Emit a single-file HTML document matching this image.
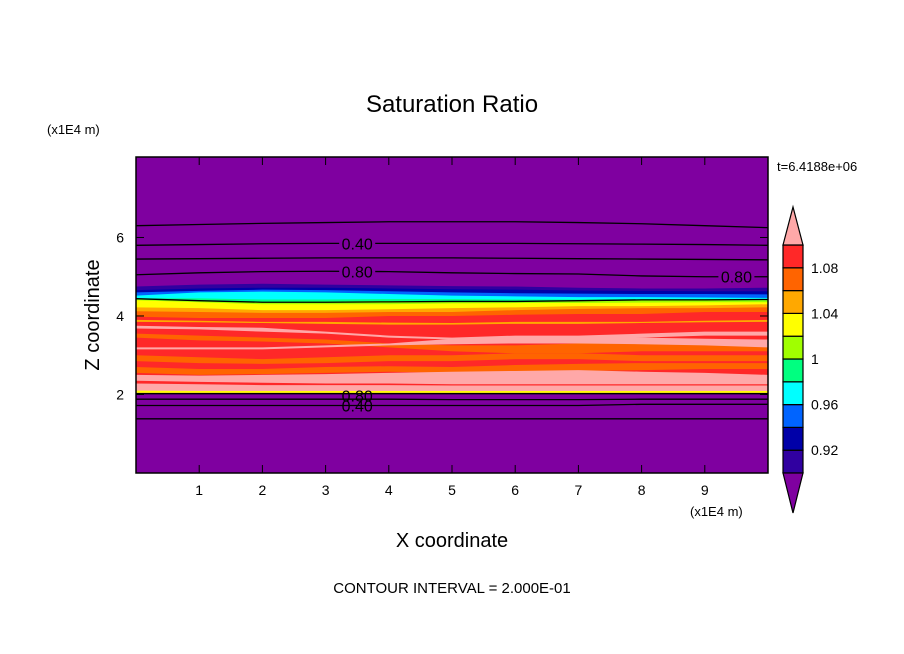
<!DOCTYPE html>
<html><head><meta charset="utf-8"><style>
html,body{margin:0;padding:0;background:#fff;width:904px;height:654px;overflow:hidden}
svg{display:block;font-family:"Liberation Sans","DejaVu Sans",sans-serif}
</style></head><body>
<svg id="chart" width="904" height="654" viewBox="0 0 904 654">
<text x="452" y="112" text-anchor="middle" font-size="24">Saturation Ratio</text>
<text x="47" y="134" font-size="13">(x1E4 m)</text>
<text x="777" y="171" font-size="13">t=6.4188e+06</text>
<text x="690" y="516" font-size="13">(x1E4 m)</text>
<text x="452" y="547" text-anchor="middle" font-size="20">X coordinate</text>
<text transform="translate(99,315) rotate(-90)" text-anchor="middle" font-size="20">Z coordinate</text>
<text x="452" y="593" text-anchor="middle" font-size="15">CONTOUR INTERVAL = 2.000E-01</text>
<g id="plot"></g>
<g id="cbar"></g>
</svg>
<script>
const xTicks=[1,2,3,4,5,6,7,8,9];
const yTicks=[2,4,6];
const xs=[0,1,2,3,4,5,6,7,8,9,10];
const bandColors=["#3000a0","#0000a8","#0064ff","#00ffff","#00ff80","#a0ff00","#ffff00","#ffa800","#ff6400","#ff2828"];
const bandTop0=[4.75,4.8,4.82,4.8,4.78,4.76,4.75,4.72,4.7,4.7,4.72];
const bandTop1=[4.66,4.7,4.72,4.72,4.7,4.68,4.67,4.65,4.64,4.63,4.63];
const bandTop2=[4.6,4.64,4.67,4.66,4.63,4.6,4.58,4.57,4.56,4.56,4.55];
const bandTop3=[4.52,4.6,4.62,4.6,4.56,4.52,4.5,4.48,4.48,4.47,4.46];
const bandTop4=[4.45,4.45,4.42,4.42,4.43,4.43,4.42,4.42,4.43,4.43,4.43];
const bandTop5=[4.42,4.38,4.36,4.37,4.38,4.38,4.37,4.38,4.4,4.4,4.4];
const bandTop6=[4.4,4.35,4.3,4.3,4.3,4.32,4.33,4.33,4.34,4.35,4.35];
const bandTop7=[4.22,4.2,4.15,4.15,4.17,4.2,4.22,4.25,4.25,4.27,4.3];
const bandTop8=[4.12,4.1,4.08,4.08,4.1,4.1,4.15,4.18,4.2,4.2,4.22];
const bandTop9=[3.98,3.95,3.95,3.95,4.0,4.0,4.03,4.05,4.05,4.1,4.1];
const bandTops=[bandTop0,bandTop1,bandTop2,bandTop3,bandTop4,bandTop5,bandTop6,bandTop7,bandTop8,bandTop9];
const stripeColors=["#ffa8a8","#ff6400","#ffa800","#ffa8a8","#ff6400","#ff6400","#ffa8a8","#ff2828","#ffa8a8","#ffff00"];
const stripeTop0=[3.75,3.72,3.7,3.6,3.5,3.45,3.5,3.5,3.55,3.6,3.6];
const stripeBot0=[3.68,3.66,3.6,3.55,3.45,3.4,3.42,3.42,3.45,3.5,3.5];
const stripeTop1=[3.55,3.5,3.45,3.4,3.3,3.25,3.25,3.3,3.3,3.35,3.35];
const stripeBot1=[3.45,3.38,3.35,3.3,3.2,3.1,3.05,3.05,3.1,3.1,3.1];
const stripeTop2=[3.9,3.88,3.85,3.85,3.83,3.82,3.85,3.85,3.85,3.88,3.9];
const stripeBot2=[3.85,3.84,3.82,3.8,3.78,3.78,3.8,3.8,3.82,3.84,3.85];
const stripeTop3=[3.2,3.2,3.2,3.25,3.3,3.42,3.48,3.48,3.45,3.42,3.4];
const stripeBot3=[3.15,3.15,3.15,3.2,3.25,3.28,3.3,3.3,3.28,3.25,3.2];
const stripeTop4=[3.0,2.95,2.9,2.95,3.0,3.0,3.05,3.05,3.0,3.0,3.0];
const stripeBot4=[2.85,2.8,2.78,2.8,2.85,2.85,2.9,2.9,2.85,2.85,2.85];
const stripeTop5=[2.7,2.65,2.65,2.7,2.72,2.7,2.75,2.78,2.8,2.8,2.8];
const stripeBot5=[2.55,2.5,2.52,2.55,2.58,2.55,2.6,2.6,2.62,2.65,2.65];
const stripeTop6=[2.5,2.48,2.5,2.52,2.55,2.58,2.6,2.62,2.58,2.55,2.5];
const stripeBot6=[2.06,2.06,2.06,2.06,2.06,2.06,2.06,2.06,2.06,2.06,2.06];
const stripeTop7=[2.35,2.32,2.3,2.28,2.28,2.26,2.26,2.26,2.26,2.26,2.26];
const stripeBot7=[2.28,2.26,2.24,2.24,2.24,2.23,2.23,2.23,2.23,2.23,2.23];
const stripeTop8=[2.22,2.2,2.2,2.2,2.2,2.2,2.2,2.2,2.2,2.2,2.2];
const stripeBot8=[2.1,2.1,2.1,2.1,2.1,2.1,2.1,2.1,2.1,2.1,2.1];
const stripeTop9=[2.1,2.09,2.09,2.09,2.09,2.09,2.09,2.09,2.09,2.09,2.09];
const stripeBot9=[2.04,2.04,2.04,2.04,2.04,2.04,2.04,2.04,2.04,2.04,2.04];
const stripeTops=[stripeTop0,stripeTop1,stripeTop2,stripeTop3,stripeTop4,stripeTop5,stripeTop6,stripeTop7,stripeTop8,stripeTop9];
const stripeBots=[stripeBot0,stripeBot1,stripeBot2,stripeBot3,stripeBot4,stripeBot5,stripeBot6,stripeBot7,stripeBot8,stripeBot9];
const bandBase=2.06;
const cLine0=[6.3,6.33,6.36,6.38,6.4,6.4,6.4,6.38,6.35,6.3,6.25];
const cLine1=[5.8,5.82,5.84,5.85,5.85,5.85,5.85,5.84,5.83,5.82,5.8];
const cLine2=[5.45,5.46,5.47,5.48,5.48,5.48,5.47,5.46,5.45,5.44,5.43];
const cLine3=[5.05,5.1,5.13,5.14,5.13,5.1,5.08,5.07,5.02,5.0,5.0];
const cLine4=[4.44,4.39,4.35,4.35,4.36,4.37,4.37,4.39,4.41,4.41,4.42];
const cLine5=[2.02,2.02,2.02,2.02,2.02,2.02,2.02,2.02,2.02,2.02,2.02];
const cLine6=[1.88,1.88,1.88,1.88,1.88,1.87,1.87,1.87,1.88,1.88,1.88];
const cLine7=[1.72,1.72,1.72,1.72,1.72,1.72,1.72,1.72,1.75,1.75,1.75];
const cLine8=[1.38,1.38,1.38,1.38,1.38,1.38,1.38,1.38,1.38,1.38,1.38];
const cLines=[cLine0,cLine1,cLine2,cLine3,cLine4,cLine5,cLine6,cLine7,cLine8];
const cLabels=["0.40","0.80","0.80","0.80","0.40"];
const cLabelX=[3.5,3.5,9.5,3.5,3.5];
const cLabelZ=[5.85,5.13,5.0,1.98,1.72];
const cbarLevels=[0.90,0.92,0.94,0.96,0.98,1.00,1.02,1.04,1.06,1.08,1.10];
const cbarColors=["#3000a0","#0000a8","#0064ff","#00ffff","#00ff80","#a0ff00","#ffff00","#ffa800","#ff6400","#ff2828"];
const cbarLabels=["0.92","0.96","1","1.04","1.08"];
const cbarLabelVals=[0.92,0.96,1.00,1.04,1.08];

const NS="http://www.w3.org/2000/svg";
const X0=136,X1=768,Y0=473,Y1=157;
const sx=v=>X0+(v/10)*(X1-X0);
const sy=v=>Y0-(v/8.05)*(Y0-Y1);
const plot=document.getElementById('plot');
function mk(tag,attrs,parent){const e=document.createElementNS(NS,tag);for(const k in attrs)e.setAttribute(k,attrs[k]);parent.appendChild(e);return e;}
const bg=mk('rect',{x:X0,y:Y1,width:X1-X0,height:Y0-Y1,fill:'#7f00a0'},plot);


function poly(top,bot){let d='';xs.forEach((x,i)=>{d+=(i?'L':'M')+sx(x)+','+sy(top[i]);});for(let i=xs.length-1;i>=0;i--)d+='L'+sx(xs[i])+','+sy(bot[i]);return d+'Z';}
bandTops.forEach((t,i)=>{
  const p=mk('path',{d:poly(t,xs.map(()=>bandBase)),fill:bandColors[i]},plot);
  
  
});
stripeTops.forEach((t,i)=>{
  const p=mk('path',{d:poly(t,stripeBots[i]),fill:stripeColors[i]},plot);
  
  
});
cLines.forEach(l=>{
  let d='';xs.forEach((x,i)=>{d+=(i?'L':'M')+sx(x)+','+sy(l[i]);});
  const p=mk('path',{d:d,fill:'none',stroke:'#000','stroke-width':1.3},plot);
  
  
});
cLabels.forEach((s,i)=>{
  const w=40;
  mk('rect',{x:sx(cLabelX[i])-w/2+2,y:sy(cLabelZ[i])-7,width:w-4,height:14,fill:i>=3?'none':'#7f00a0'},plot);
  const t=mk('text',{x:sx(cLabelX[i]),y:sy(cLabelZ[i])+6,'text-anchor':'middle','font-size':16},plot);
  t.textContent=s;
  
  
});
const fr=mk('rect',{x:X0,y:Y1,width:X1-X0,height:Y0-Y1,fill:'none',stroke:'#000','stroke-width':1.5},plot);


xTicks.forEach(v=>{
  mk('line',{x1:sx(v),x2:sx(v),y1:Y0,y2:Y0-8,stroke:'#000'},plot);
  mk('line',{x1:sx(v),x2:sx(v),y1:Y1,y2:Y1+8,stroke:'#000'},plot);
  const t=mk('text',{x:sx(v),y:Y0+22,'text-anchor':'middle','font-size':14},plot);
  t.textContent=v;
  
  
});
yTicks.forEach(v=>{
  mk('line',{x1:X0,x2:X0+8,y1:sy(v),y2:sy(v),stroke:'#000'},plot);
  mk('line',{x1:X1,x2:X1-8,y1:sy(v),y2:sy(v),stroke:'#000'},plot);
  const t=mk('text',{x:X0-12,y:sy(v)+5,'text-anchor':'end','font-size':14},plot);
  t.textContent=v;
  
  
});
const cb=document.getElementById('cbar');
const CX=783,CW=20,CB0=473,CB1=245;
const cy=v=>CB0-(v-0.90)/(0.20)*(CB0-CB1);
cbarColors.forEach((c,i)=>{
  const r=mk('rect',{x:CX,y:cy(cbarLevels[i+1]),width:CW,height:cy(cbarLevels[i])-cy(cbarLevels[i+1]),fill:c,stroke:'#000','stroke-width':1.2},cb);
  
  
});
const tu=mk('polygon',{points:`${CX},${CB1} ${CX+CW},${CB1} ${CX+CW/2},207`,fill:'#ffa8a8',stroke:'#000','stroke-width':1.2},cb);


const td=mk('polygon',{points:`${CX},${CB0} ${CX+CW},${CB0} ${CX+CW/2},513`,fill:'#7f00a0',stroke:'#000','stroke-width':1.2},cb);


cbarLabels.forEach((s,i)=>{
  const t=mk('text',{x:811,y:cy(cbarLabelVals[i])+5,'font-size':14},cb);
  t.textContent=s;
  
  
});
</script>
</body></html>
